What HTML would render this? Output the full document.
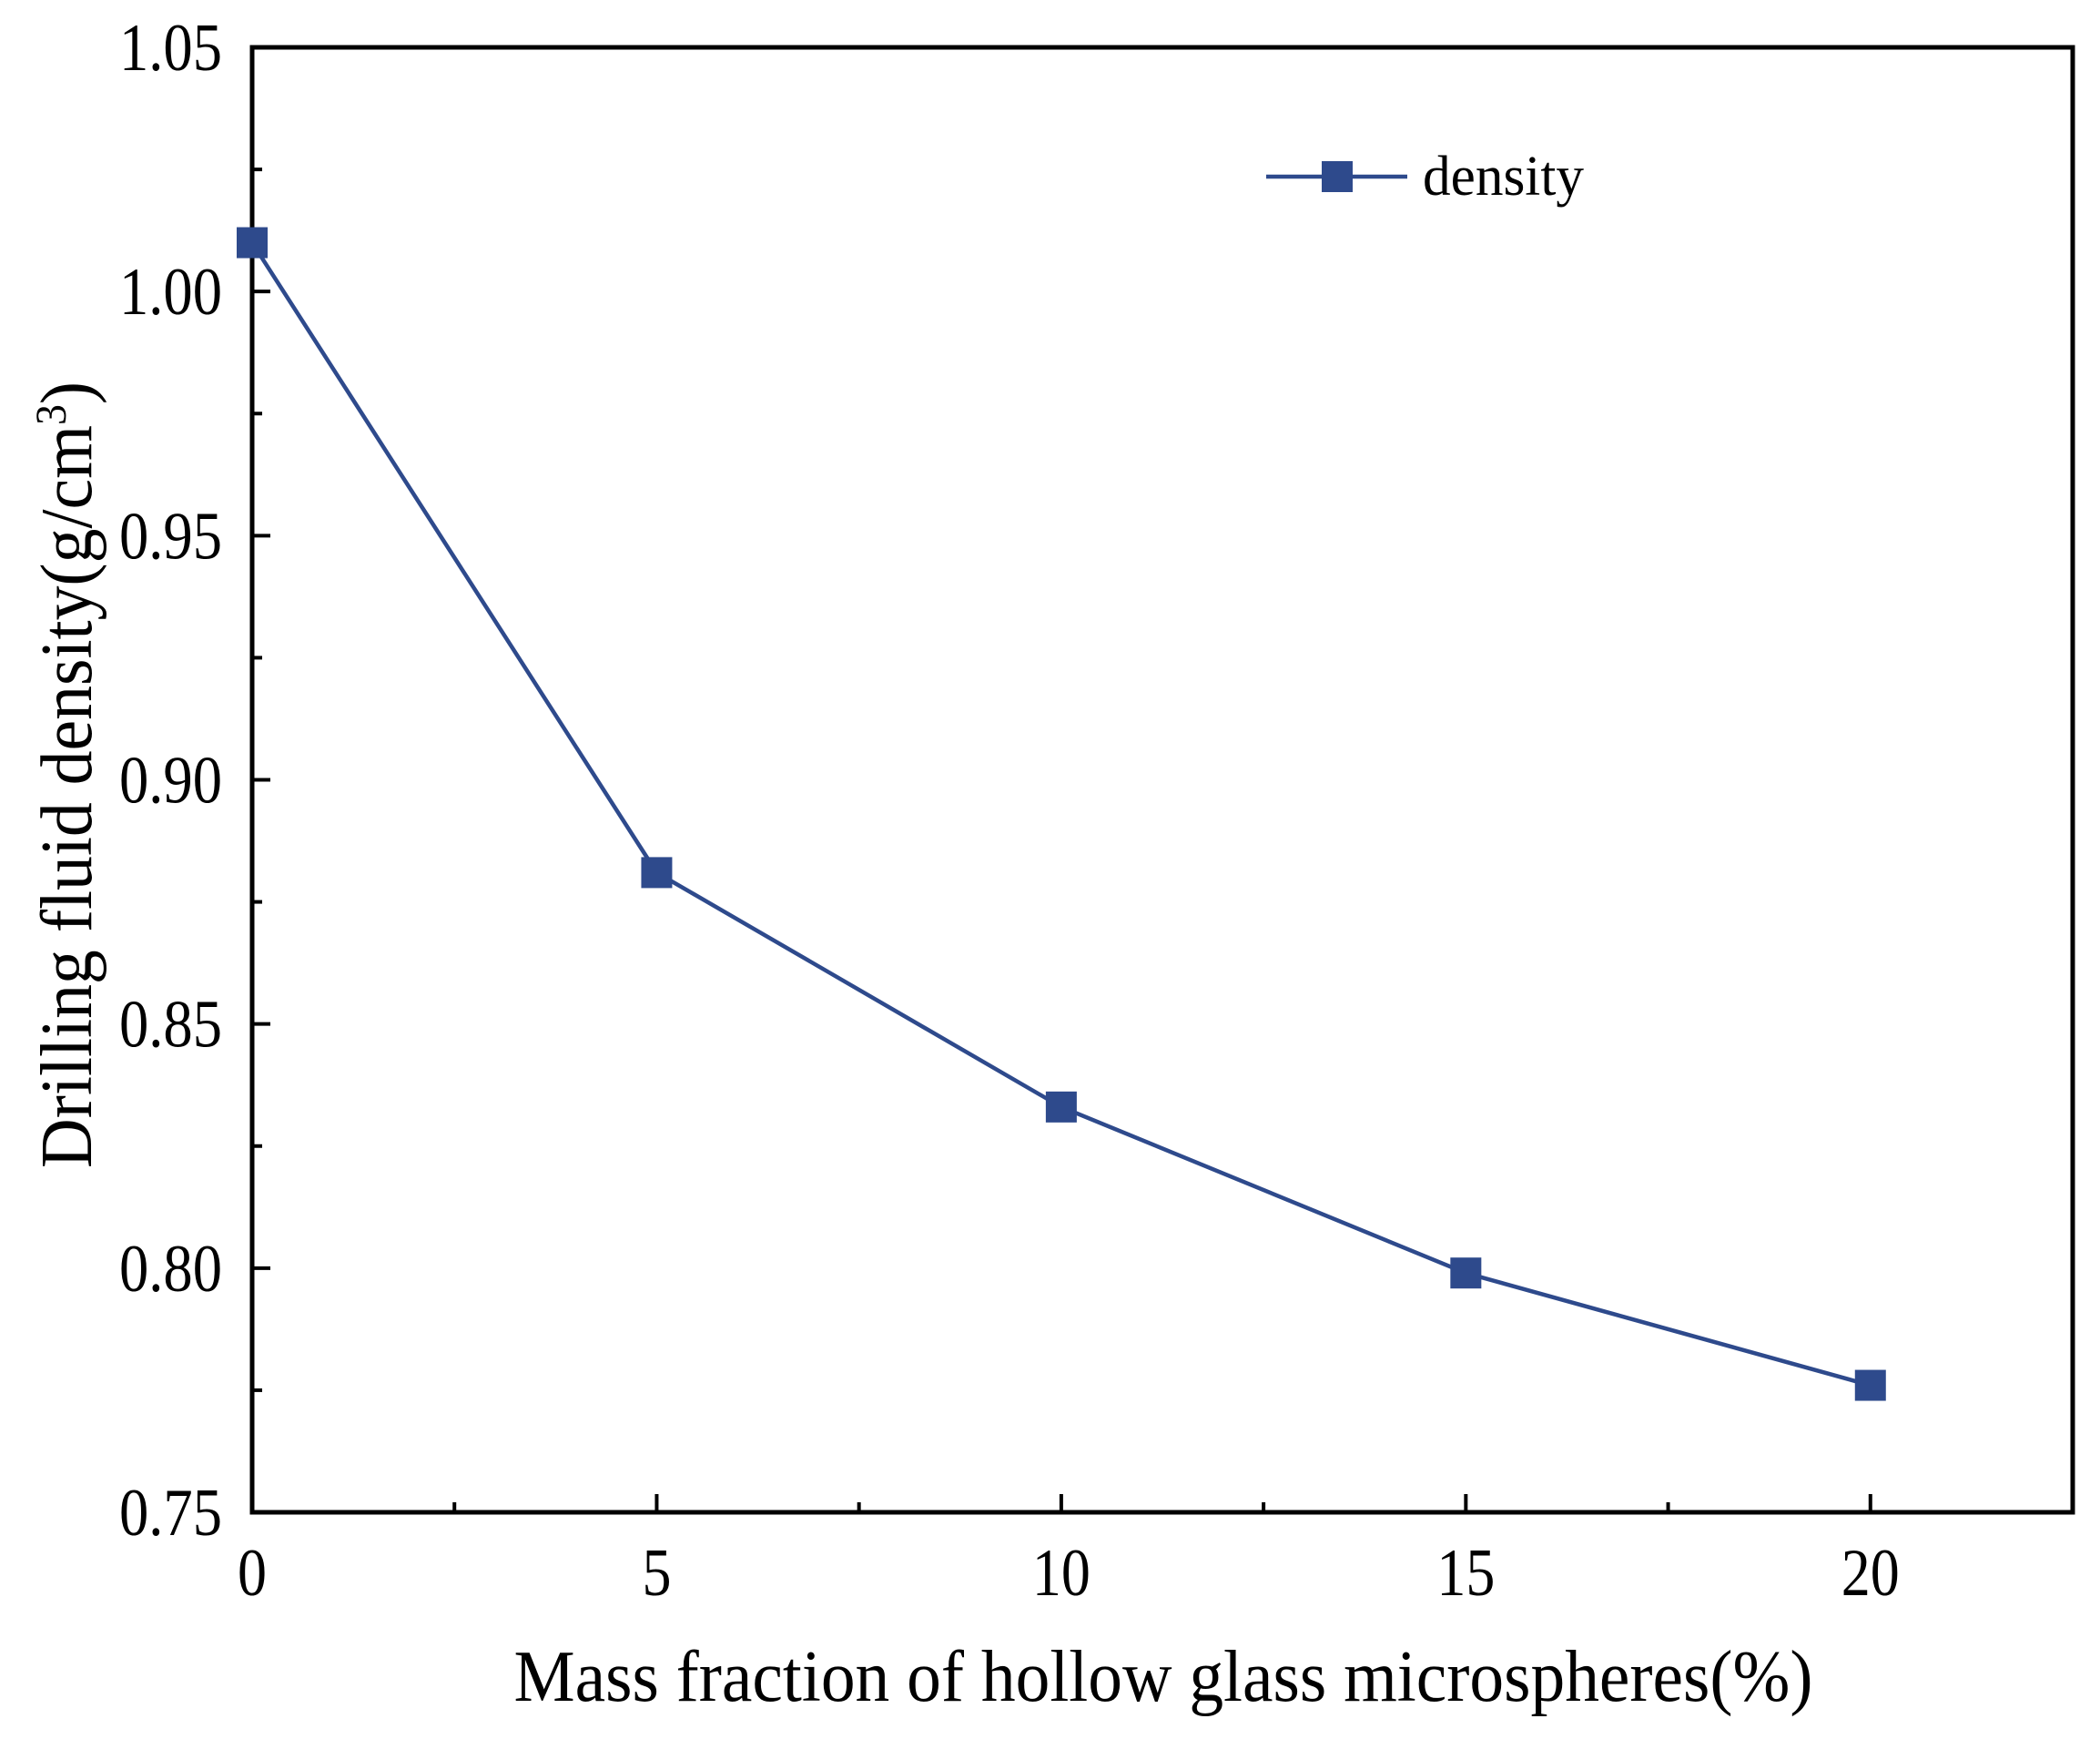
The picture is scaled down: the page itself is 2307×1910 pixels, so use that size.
<!DOCTYPE html>
<html><head><meta charset="utf-8"><style>body{margin:0;background:#fff}svg{display:block}text{font-family:"Liberation Serif",serif;fill:#000}</style></head>
<body>
<svg id="chart" width="2307" height="1910" viewBox="0 0 2307 1910" xmlns="http://www.w3.org/2000/svg">
<g id="g"></g>
</svg>
<script>
const xValues=[0,5,10,15,20];
const densityValues=[1.010,0.881,0.833,0.799,0.776];
const xTicks=[0,5,10,15,20];
const yTicks=[0.75,0.80,0.85,0.90,0.95,1.00,1.05];
const yTickLabels=["0.75","0.80","0.85","0.90","0.95","1.00","1.05"];
const L=277,R=2277,T=52,B=1661;
const X=v=>L+(v-0)/22.5*(R-L);
const Y=v=>B-(v-0.75)/0.30*(B-T);
const g=document.getElementById('g');const NS='http://www.w3.org/2000/svg';
function mk(t,a,p){const e=document.createElementNS(NS,t);for(const k in a)e.setAttribute(k,a[k]);(p||g).appendChild(e);return e;}
xTicks.forEach(v=>{const e=mk('line',{x1:X(v),x2:X(v),y1:B,y2:B-20,stroke:'#000','stroke-width':4});


const s=String(v);
const t=mk('text',{x:X(v),y:1752,'font-size':74,'text-anchor':'middle',textLength:s.length*32,lengthAdjust:'spacingAndGlyphs'});t.textContent=s;

});
for(let i=0;i<xTicks.length;i++){const v=xTicks[i]+2.5;if(v>22.5)break;const e=mk('line',{x1:X(v),x2:X(v),y1:B,y2:B-11,stroke:'#000','stroke-width':4});

}
yTicks.forEach((v,i)=>{const e=mk('line',{x1:L,x2:L+20,y1:Y(v),y2:Y(v),stroke:'#000','stroke-width':4});


const t=mk('text',{x:244,y:Y(v)+25,'font-size':74,'text-anchor':'end',textLength:113,lengthAdjust:'spacingAndGlyphs'});t.textContent=yTickLabels[i];


if(i<yTicks.length-1){const m=mk('line',{x1:L,x2:L+11,y1:Y(v+0.025),y2:Y(v+0.025),stroke:'#000','stroke-width':4});

}});
const f=mk('rect',{x:L,y:T,width:R-L,height:B-T,fill:'none',stroke:'#000','stroke-width':5});


const pl=mk('polyline',{points:xValues.map((v,i)=>X(v)+','+Y(densityValues[i])).join(' '),fill:'none',stroke:'#2e4a8c','stroke-width':4.5});


xValues.forEach((v,i)=>{const r=mk('rect',{x:X(v)-17,y:Y(densityValues[i])-17,width:34,height:34,fill:'#2e4a8c'});

});
const lg=mk('g',{});


mk('line',{x1:1391,x2:1546,y1:194,y2:194,stroke:'#2e4a8c','stroke-width':4.5},lg);
mk('rect',{x:1452,y:177,width:34,height:34,fill:'#2e4a8c'},lg);
const lt=mk('text',{x:1563,y:214,'font-size':62,textLength:177,lengthAdjust:'spacingAndGlyphs'},lg);lt.textContent='density';
const xt=mk('text',{x:1278,y:1868,'font-size':80,'text-anchor':'middle',textLength:1427,lengthAdjust:'spacingAndGlyphs'});xt.textContent='Mass fraction of hollow glass microspheres(%)';


const yt=mk('text',{x:0,y:0,'font-size':80,'text-anchor':'middle',textLength:864,lengthAdjust:'spacingAndGlyphs',transform:'translate(100,851) rotate(-90)'});
yt.innerHTML='Drilling fluid density(g/cm<tspan dy="-28" font-size="48">3</tspan><tspan dy="28">)</tspan>';


</script>
</body></html>
